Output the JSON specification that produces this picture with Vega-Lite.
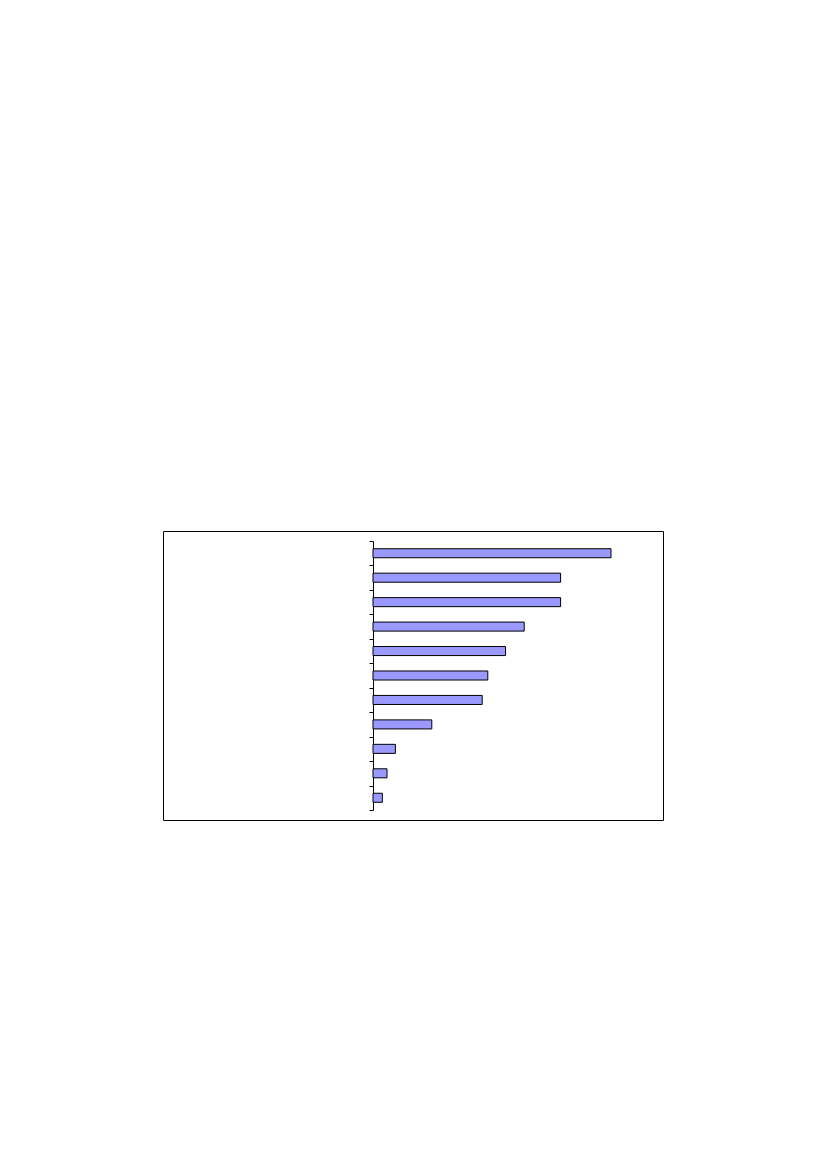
{
  "$schema": "https://vega.github.io/schema/vega-lite/v6.json",
  "autosize": "none",
  "padding": {"left": 163, "top": 531, "right": 5, "bottom": 5},
  "width": 500,
  "height": 289,
  "background": "white",
  "config": {"view": {"stroke": "black", "strokeWidth": 1}},
  "data": {
    "values": [
      {"category": "A", "value": 25.5},
      {"category": "B", "value": 20.1},
      {"category": "C", "value": 20.1},
      {"category": "D", "value": 16.2},
      {"category": "E", "value": 14.2},
      {"category": "F", "value": 12.3},
      {"category": "G", "value": 11.7},
      {"category": "H", "value": 6.3},
      {"category": "I", "value": 2.4},
      {"category": "J", "value": 1.5},
      {"category": "K", "value": 1.0}
    ]
  },
  "mark": {"type": "bar", "fill": "#9999ff", "stroke": "black", "strokeWidth": 1, "height": {"band": 0.37}},
  "encoding": {
    "y": {
      "field": "category", "type": "nominal", "sort": null,
      "scale": {"range": [10, 279], "paddingInner": 0, "paddingOuter": 0},
      "axis": {"title": null, "labels": false, "offset": -210, "tickBand": "extent", "tickSize": 4, "domainColor": "black", "tickColor": "black", "domainWidth": 1, "tickWidth": 1, "grid": false}
    },
    "x": {
      "field": "value", "type": "quantitative",
      "scale": {"domain": [0, 30], "range": [210, 490]},
      "axis": null
    }
  }
}
